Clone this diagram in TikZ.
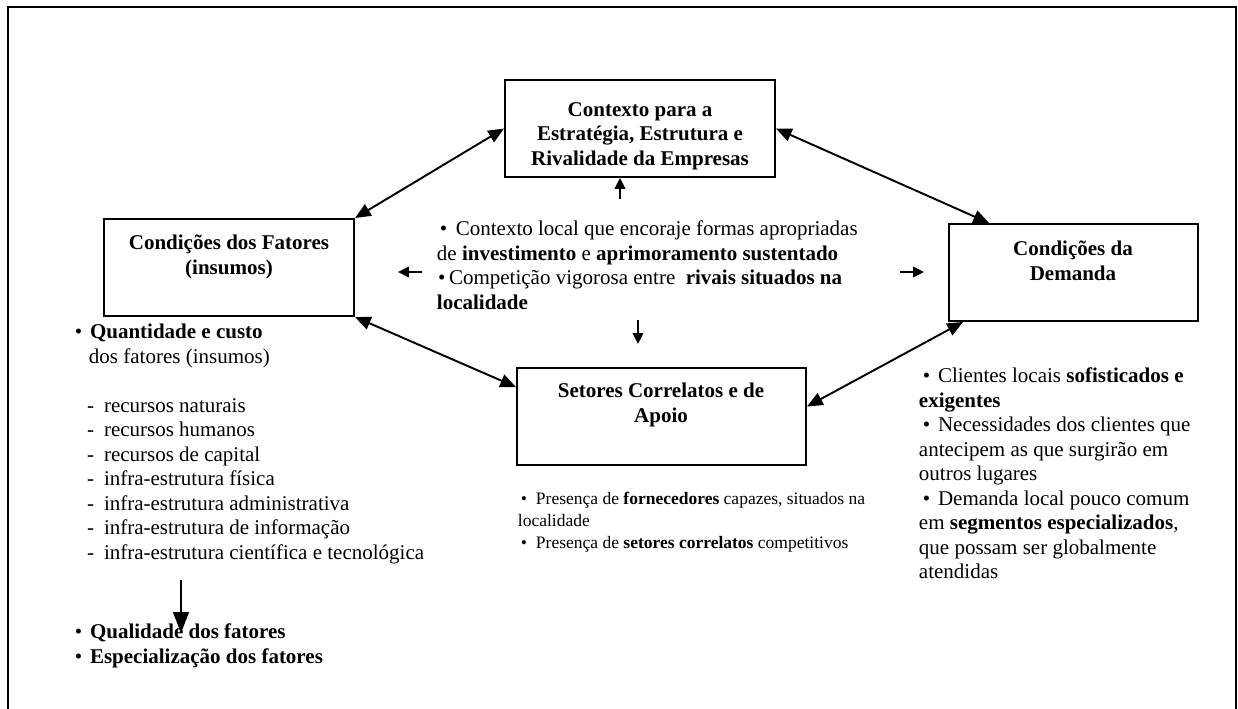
\documentclass[tikz,border=0pt]{standalone}
\usepackage{fontspec}
\setmainfont{Liberation Serif}
\usetikzlibrary{
	arrows.meta,
	calc,
	fit,
	positioning
}
\tikzset{every path/.append style={line width=1.1pt}}
\tikzset{every path/.append style={>={Triangle[length=9pt,width=7.5pt]}}}
\tikzset{
	caixa/.style={draw,inner sep=0pt},
	titulo/.style={align=center,inner sep=0pt,font=\fontsize{12}{14}\selectfont\bfseries},
	lista/.style={align=left,anchor=north west,inner sep=0pt,font=\fontsize{12}{14}\selectfont},
	listamenor/.style={lista,font=\fontsize{10}{12.6}\selectfont},
	seta/.style={->,>={Triangle[length=6.2pt,width=6pt]}},
	setalonga/.style={->,>={Triangle[length=12pt,width=9pt]}}
}
\newcommand{\tikzCaixa}[5]{\node (#1) [caixa,fit={#2 #3}]{}; \node (#1t) at #4 [titulo]{#5};}
\newcommand{\marca}{\makebox[8.6pt][l]{\textbullet}}
\newcommand{\traco}{\hspace*{6.9pt}\makebox[9.7pt][l]{-}}

\begin{document}
\begin{tikzpicture}[x=0.5714pt,y=-0.5714pt]
	\useasboundingbox (0,0) rectangle (1238,708);
	\draw (8,7) rectangle (1236,720);
	
	% as quatro caixas
	\tikzCaixa{contexto}{(505,80)}{(775,177)}{(640,136)}{Contexto para a\\Estratégia, Estrutura e\\Rivalidade da Empresas}
	\tikzCaixa{fatores}{(104,219)}{(354,316)}{(229,257)}{Condições dos Fatores\\(insumos)}
	\tikzCaixa{demanda}{(949,224)}{(1198,321)}{(1073,261)}{Condições da\\Demanda}
	\tikzCaixa{setores}{(517,368)}{(806,465)}{(661,405)}{Setores Correlatos e de\\Apoio}
	
	% ligacoes entre as caixas
	\draw[<->] (fatores.north east) -- (contexto.west);
	\draw[<->] (contexto.east) -- ($(demanda.north west)+(41,0)$);
	\draw[<->] (fatores.south east) -- ($(setores.north west)+(0,20)$);
	\draw[<->] ($(demanda.south west)+(15,0)$) -- ($(setores.east)+(0,-10)$);
	
	% texto central e setas curtas
	\node (contextolista) at (436,220) [lista] {\hspace*{1.7pt}\makebox[9.1pt][l]{\textbullet}Contexto local que encoraje formas apropriadas\\
		de \textbf{investimento} e \textbf{aprimoramento sustentado}\\
		\hspace*{0.6pt}\makebox[6.3pt][l]{\textbullet}Competição vigorosa entre\ \ \textbf{rivais situados na}\\
		\textbf{localidade}};
	\coordinate (cima) at (620,199);
	\coordinate (baixo1) at (638,320);
	\coordinate (baixo2) at (638,344);
	\coordinate (esq1) at (422,272);
	\coordinate (esq2) at (398,272);
	\coordinate (dir1) at (900,272);
	\coordinate (dir2) at (924,272);
	\draw[seta] (cima) -- (cima |- contexto.south);
	\draw[seta] (baixo1) -- (baixo2);
	\draw[seta] (esq1) -- (esq2);
	\draw[seta] (dir1) -- (dir2);
	
	% listas
	\node (fatoreslista) at (74,323) [lista] {\marca\textbf{Quantidade e custo}\\
		\hspace*{8pt}dos fatores (insumos)\\[14pt]
		\traco recursos naturais\\
		\traco recursos humanos\\
		\traco recursos de capital\\
		\traco infra-estrutura física\\
		\traco infra-estrutura administrativa\\
		\traco infra-estrutura de informação\\
		\traco infra-estrutura científica e tecnológica};
	\node (qualidadelista) at (74,623) [lista] {\marca\textbf{Qualidade dos fatores}\\
		\marca\textbf{Especialização dos fatores}};
	\coordinate (q1) at (181,580);
	\coordinate (q2) at (181,633);
	\draw[setalonga] (q1) -- (q2);
	
	\node (setoreslista) at (517,491) [listamenor] {\hspace*{1.7pt}\marca Presença de \textbf{fornecedores} capazes, situados na\\
		localidade\\
		\hspace*{1.7pt}\marca Presença de \textbf{setores correlatos} competitivos};
	
	\node (demandalista) at (918,367) [lista] {\hspace*{2.3pt}\marca Clientes locais \textbf{sofisticados e}\\
		\textbf{exigentes}\\
		\hspace*{2.3pt}\marca Necessidades dos clientes que\\
		antecipem as que surgirão em\\
		outros lugares\\
		\hspace*{2.3pt}\marca Demanda local pouco comum\\
		em \textbf{segmentos especializados},\\
		que possam ser globalmente\\
		atendidas};
\end{tikzpicture}
\end{document}
